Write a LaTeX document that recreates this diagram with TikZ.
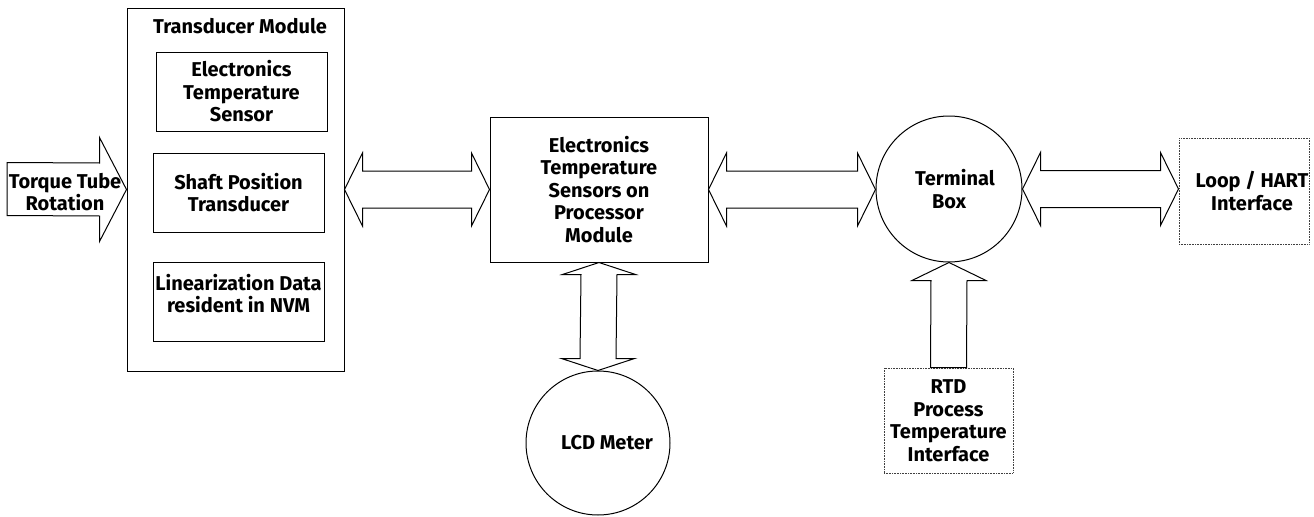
\documentclass[tikz,border=0pt]{standalone}
\usepackage{fontspec}
\setmainfont{Fira Sans}
\usetikzlibrary{calc}

\begin{document}
\begin{tikzpicture}[x=0.5pt, y=0.5pt,
    box/.style={draw, line width=0.5pt, inner sep=0pt},
    ibox/.style={box, draw=black!75, dash pattern=on 0.4pt off 0.4pt},
    disc/.style={draw, circle, line width=0.5pt, inner sep=0pt},
    lbl/.style={font=\bfseries\fontsize{10}{11.25}\selectfont, align=center},
    blockarrow/.style={draw, line width=0.5pt, line join=miter}]
  % A horizontal double block arrow: #1 = node on the left, #2 = node on the right.
  \newcommand{\hblock}[2]{%
    \draw[blockarrow] (#1.east) -- ++(18,36.5) -- ++(0,-18)
      -- ($(#1.east -| #2.west)+(-18,18.5)$) -- ++(0,18) -- (#1.east -| #2.west)
      -- ++(-18,-36.5) -- ++(0,18) -- ($(#1.east)+(18,-18.5)$) -- ++(0,-18) -- cycle;}

  \useasboundingbox (0,0) rectangle (1314,516);

  % transducer module and its parts
  \node[box, minimum width=108.5pt, minimum height=181.5pt] (tm) at (235.5,326.5) {};
  \node[lbl] (tmtitle) at (240,490) {Transducer Module};
  \node[box, lbl, minimum width=85.5pt, minimum height=39.5pt] (ets) at (241.5,424.5)
    {Electronics\\Temperature\\Sensor};
  \node[box, lbl, minimum width=85.5pt, minimum height=39.5pt] (spt) at (238.5,323.5)
    {Shaft Position\\Transducer};
  \node[box, minimum width=85.5pt, minimum height=39.5pt] (lin) at (238.5,214.5) {};
  \node[lbl] (lintext) at ([yshift=4pt]lin.center) {Linearization Data\\resident in NVM};

  % the other blocks
  \node[box, lbl, minimum width=109pt, minimum height=72.5pt] (proc) at (599,326.5)
    {Electronics\\Temperature\\Sensors on\\Processor\\Module};
  \node[disc, lbl, minimum size=72pt] (lcd) at (598,73) {\hspace{9pt}LCD Meter};
  \node[disc, lbl, minimum size=73pt] (tb) at (949,327) {\hspace{6pt}Terminal\\Box};
  \node[ibox, lbl, minimum width=65pt, minimum height=53pt] (loop) at (1244,325)
    {\hspace{8pt}Loop / HART\\\hspace{8pt}Interface};
  \node[ibox, lbl, minimum width=64.5pt, minimum height=52.5pt] (rtd) at (948.5,95.5)
    {RTD\\Process\\Temperature\\Interface};

  % input arrow
  \coordinate (tail) at (7,327);
  \draw[blockarrow] (tm.west) -- ++(-27,52) -- ++(0,-25.5) -- ($(tail)+(0,26.5)$)
    -- ($(tail)+(0,-26.5)$) -- ($(tm.west)+(-27,-26.5)$) -- ++(0,-25.5) -- cycle;
  \node[lbl] (torque) at (65,324) {Torque Tube\\Rotation};

  % links between the blocks
  \hblock{tm}{proc}
  \hblock{proc}{tb}
  \hblock{tb}{loop}
  \draw[blockarrow] (proc.south) -- ++(-36.5,-12) -- ++(18.5,0)
    -- ($(lcd.north)+(-18,12)$) -- ++(-18.5,0) -- (lcd.north)
    -- ++(36.5,12) -- ++(-18.5,0) -- ($(proc.south)+(18,-12)$) -- ++(18.5,0) -- cycle;
  \draw[blockarrow] (tb.south) -- ++(-37,-18) -- ++(19,0) -- ($(rtd.north)+(-18,0)$)
    -- ($(rtd.north)+(18,0)$) -- ($(tb.south)+(18,-18)$) -- ++(19,0) -- cycle;
\end{tikzpicture}
\end{document}
